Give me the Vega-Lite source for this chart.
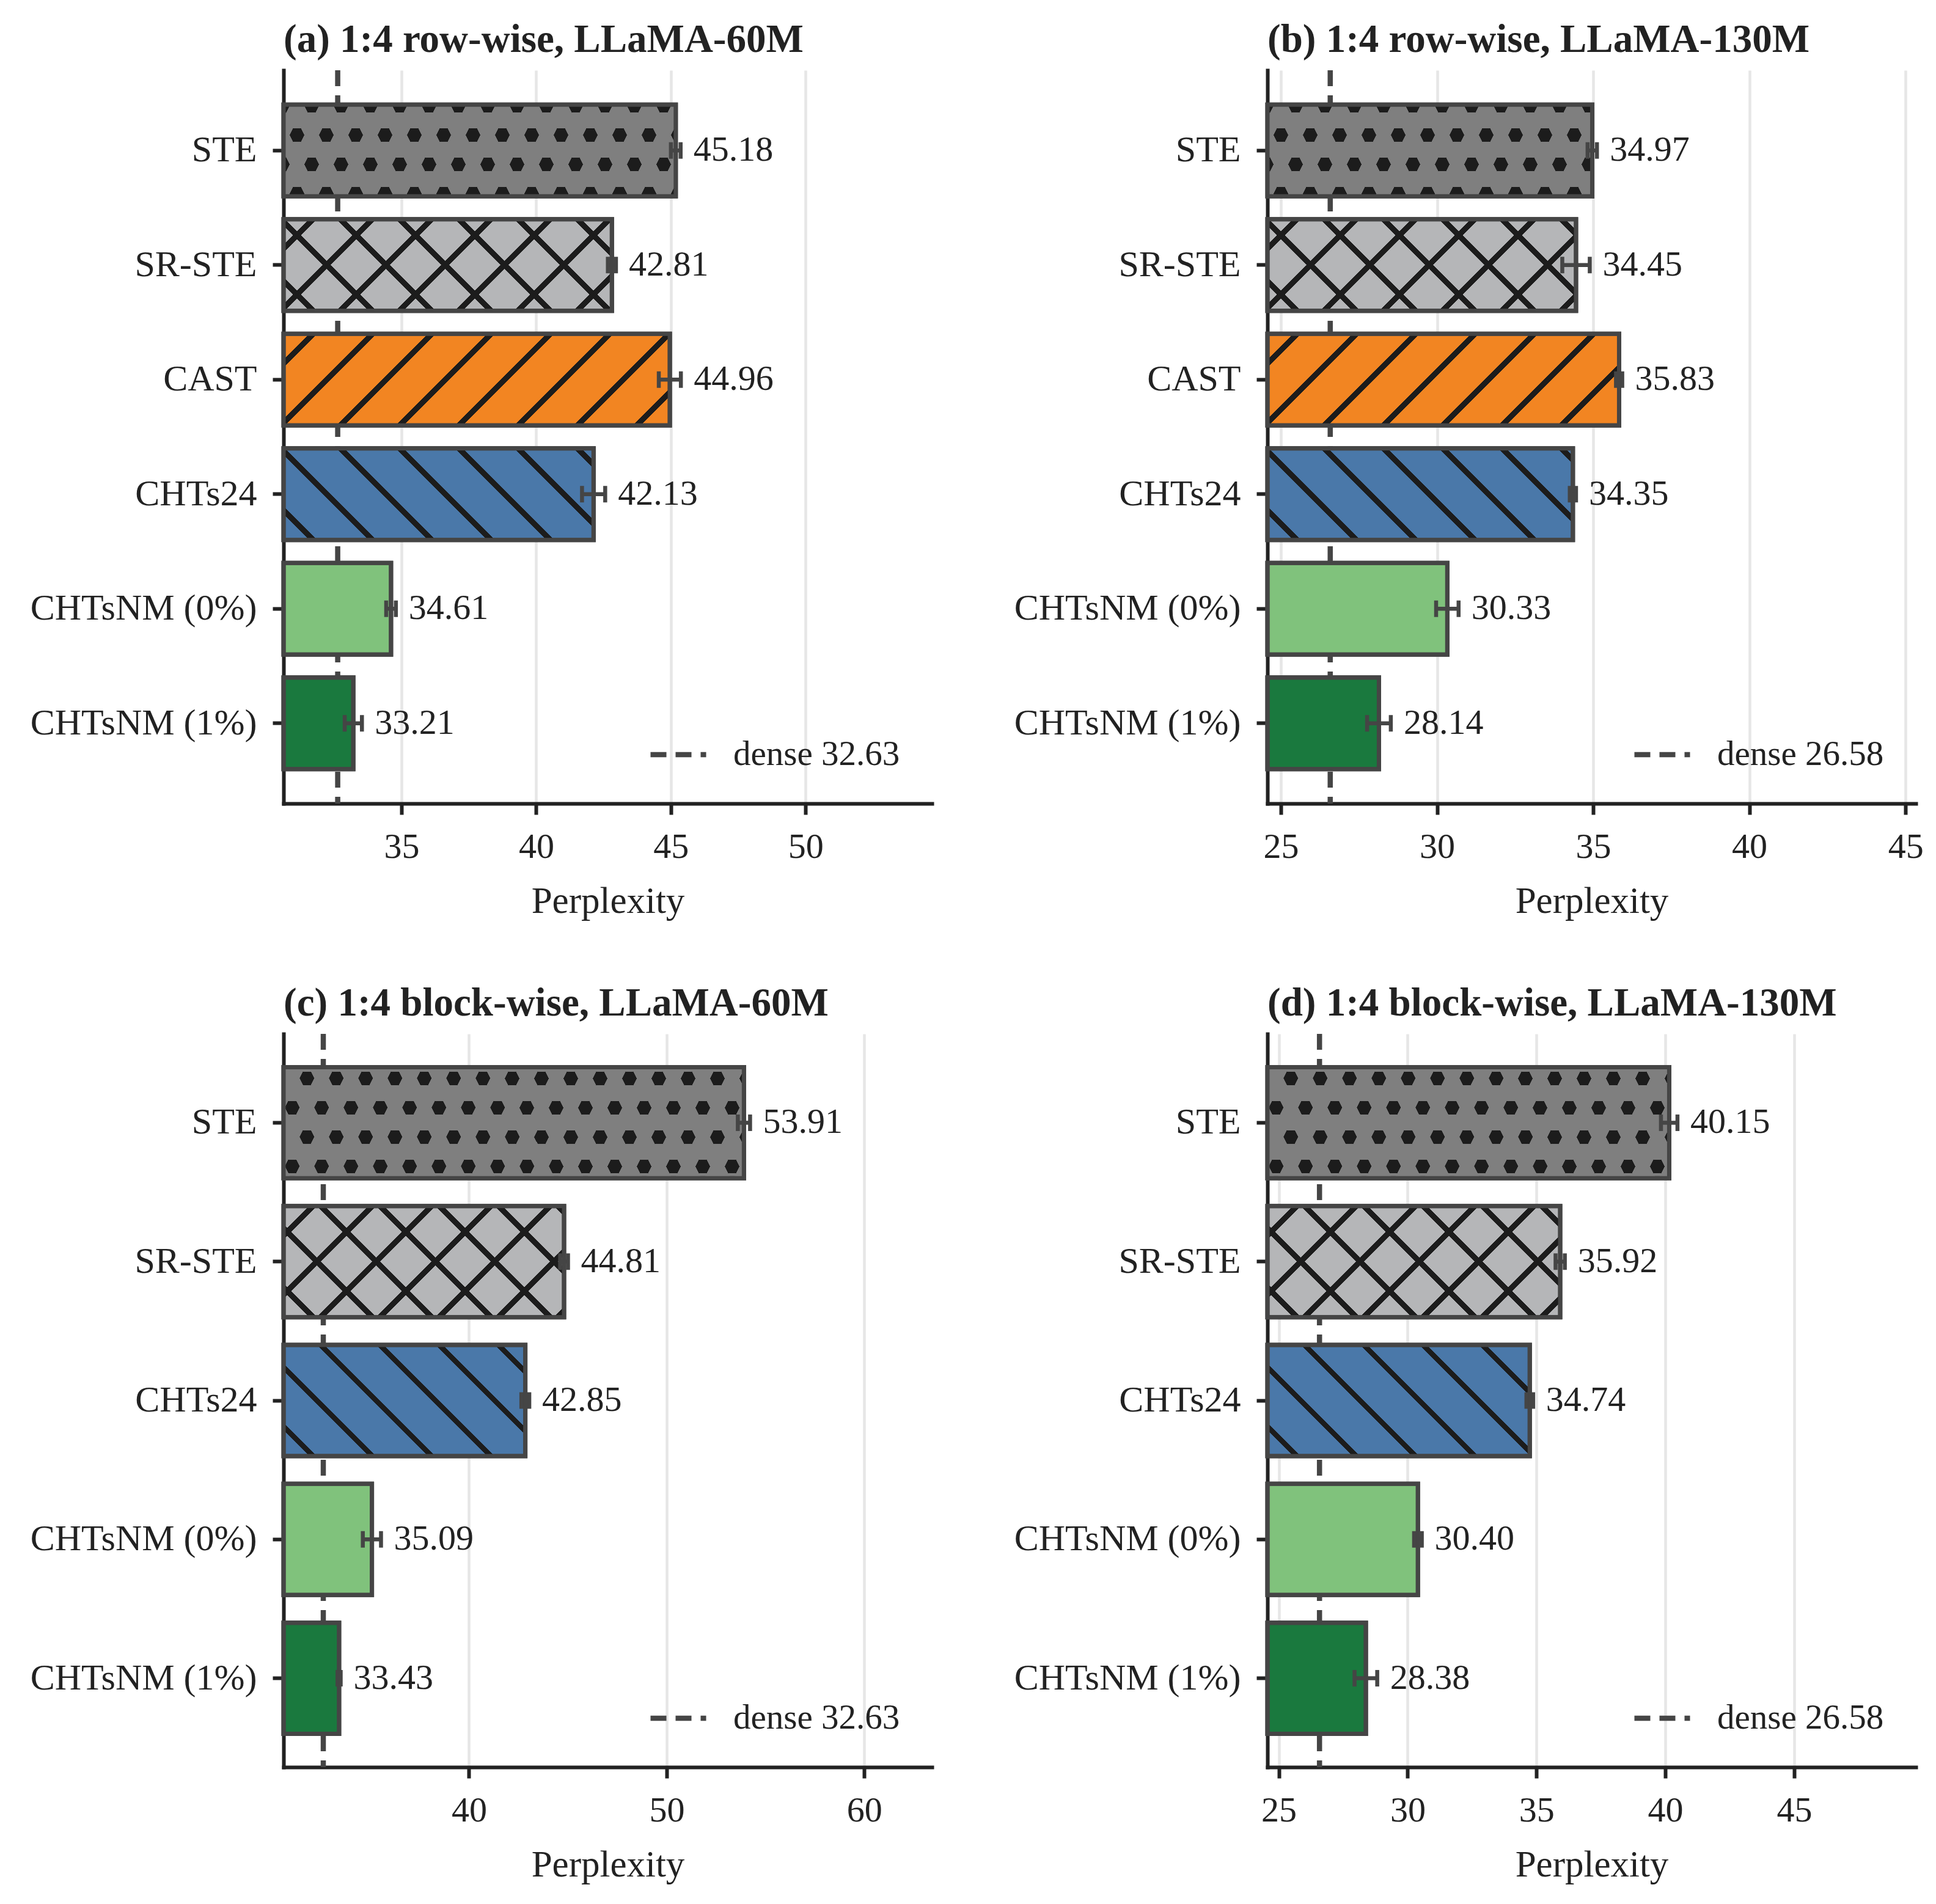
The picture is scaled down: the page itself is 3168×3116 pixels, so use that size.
{
"$schema": "https://vega.github.io/schema/vega-lite/v6.json",
"background": "white",
"padding": {"left": 49, "top": 32, "right": 5, "bottom": 5},
"params": [
{"name": "hs", "value": [
{"offset":0,"color":"transparent"},
{"offset":0.0362,"color":"transparent"},{"offset":0.0362,"color":"#1c1c1c"},{"offset":0.04713,"color":"#1c1c1c"},{"offset":0.04713,"color":"transparent"},
{"offset":0.11953,"color":"transparent"},{"offset":0.11953,"color":"#1c1c1c"},{"offset":0.13047,"color":"#1c1c1c"},{"offset":0.13047,"color":"transparent"},
{"offset":0.20287,"color":"transparent"},{"offset":0.20287,"color":"#1c1c1c"},{"offset":0.2138,"color":"#1c1c1c"},{"offset":0.2138,"color":"transparent"},
{"offset":0.2862,"color":"transparent"},{"offset":0.2862,"color":"#1c1c1c"},{"offset":0.29713,"color":"#1c1c1c"},{"offset":0.29713,"color":"transparent"},
{"offset":0.36953,"color":"transparent"},{"offset":0.36953,"color":"#1c1c1c"},{"offset":0.38047,"color":"#1c1c1c"},{"offset":0.38047,"color":"transparent"},
{"offset":0.45287,"color":"transparent"},{"offset":0.45287,"color":"#1c1c1c"},{"offset":0.4638,"color":"#1c1c1c"},{"offset":0.4638,"color":"transparent"},
{"offset":0.5362,"color":"transparent"},{"offset":0.5362,"color":"#1c1c1c"},{"offset":0.54713,"color":"#1c1c1c"},{"offset":0.54713,"color":"transparent"},
{"offset":0.61953,"color":"transparent"},{"offset":0.61953,"color":"#1c1c1c"},{"offset":0.63047,"color":"#1c1c1c"},{"offset":0.63047,"color":"transparent"},
{"offset":0.70287,"color":"transparent"},{"offset":0.70287,"color":"#1c1c1c"},{"offset":0.7138,"color":"#1c1c1c"},{"offset":0.7138,"color":"transparent"},
{"offset":0.7862,"color":"transparent"},{"offset":0.7862,"color":"#1c1c1c"},{"offset":0.79713,"color":"#1c1c1c"},{"offset":0.79713,"color":"transparent"},
{"offset":0.86953,"color":"transparent"},{"offset":0.86953,"color":"#1c1c1c"},{"offset":0.88047,"color":"#1c1c1c"},{"offset":0.88047,"color":"transparent"},
{"offset":0.95287,"color":"transparent"},{"offset":0.95287,"color":"#1c1c1c"},{"offset":0.9638,"color":"#1c1c1c"},{"offset":0.9638,"color":"transparent"},
{"offset":1,"color":"transparent"}]},
{"name": "rs", "value": [
{"offset":0,"color":"transparent"},
{"offset":0.05417,"color":"transparent"},{"offset":0.05417,"color":"#1c1c1c"},{"offset":0.14583,"color":"#1c1c1c"},{"offset":0.14583,"color":"transparent"},
{"offset":0.25417,"color":"transparent"},{"offset":0.25417,"color":"#1c1c1c"},{"offset":0.34583,"color":"#1c1c1c"},{"offset":0.34583,"color":"transparent"},
{"offset":0.45417,"color":"transparent"},{"offset":0.45417,"color":"#1c1c1c"},{"offset":0.54583,"color":"#1c1c1c"},{"offset":0.54583,"color":"transparent"},
{"offset":0.65417,"color":"transparent"},{"offset":0.65417,"color":"#1c1c1c"},{"offset":0.74583,"color":"#1c1c1c"},{"offset":0.74583,"color":"transparent"},
{"offset":0.85417,"color":"transparent"},{"offset":0.85417,"color":"#1c1c1c"},{"offset":0.94583,"color":"#1c1c1c"},{"offset":0.94583,"color":"transparent"},
{"offset":1,"color":"transparent"}]},
{"name": "cs", "value": [
{"offset":0,"color":"#7f7f7f"},
{"offset":0.01389,"color":"#7f7f7f"},{"offset":0.01389,"color":"transparent"},{"offset":0.04167,"color":"transparent"},{"offset":0.04167,"color":"#7f7f7f"},
{"offset":0.06944,"color":"#7f7f7f"},{"offset":0.06944,"color":"transparent"},{"offset":0.09722,"color":"transparent"},{"offset":0.09722,"color":"#7f7f7f"},
{"offset":0.125,"color":"#7f7f7f"},{"offset":0.125,"color":"transparent"},{"offset":0.15278,"color":"transparent"},{"offset":0.15278,"color":"#7f7f7f"},
{"offset":0.18056,"color":"#7f7f7f"},{"offset":0.18056,"color":"transparent"},{"offset":0.20833,"color":"transparent"},{"offset":0.20833,"color":"#7f7f7f"},
{"offset":0.23611,"color":"#7f7f7f"},{"offset":0.23611,"color":"transparent"},{"offset":0.26389,"color":"transparent"},{"offset":0.26389,"color":"#7f7f7f"},
{"offset":0.29167,"color":"#7f7f7f"},{"offset":0.29167,"color":"transparent"},{"offset":0.31944,"color":"transparent"},{"offset":0.31944,"color":"#7f7f7f"},
{"offset":0.34722,"color":"#7f7f7f"},{"offset":0.34722,"color":"transparent"},{"offset":0.375,"color":"transparent"},{"offset":0.375,"color":"#7f7f7f"},
{"offset":0.40278,"color":"#7f7f7f"},{"offset":0.40278,"color":"transparent"},{"offset":0.43056,"color":"transparent"},{"offset":0.43056,"color":"#7f7f7f"},
{"offset":0.45833,"color":"#7f7f7f"},{"offset":0.45833,"color":"transparent"},{"offset":0.48611,"color":"transparent"},{"offset":0.48611,"color":"#7f7f7f"},
{"offset":0.51389,"color":"#7f7f7f"},{"offset":0.51389,"color":"transparent"},{"offset":0.54167,"color":"transparent"},{"offset":0.54167,"color":"#7f7f7f"},
{"offset":0.56944,"color":"#7f7f7f"},{"offset":0.56944,"color":"transparent"},{"offset":0.59722,"color":"transparent"},{"offset":0.59722,"color":"#7f7f7f"},
{"offset":0.625,"color":"#7f7f7f"},{"offset":0.625,"color":"transparent"},{"offset":0.65278,"color":"transparent"},{"offset":0.65278,"color":"#7f7f7f"},
{"offset":0.68056,"color":"#7f7f7f"},{"offset":0.68056,"color":"transparent"},{"offset":0.70833,"color":"transparent"},{"offset":0.70833,"color":"#7f7f7f"},
{"offset":0.73611,"color":"#7f7f7f"},{"offset":0.73611,"color":"transparent"},{"offset":0.76389,"color":"transparent"},{"offset":0.76389,"color":"#7f7f7f"},
{"offset":0.79167,"color":"#7f7f7f"},{"offset":0.79167,"color":"transparent"},{"offset":0.81944,"color":"transparent"},{"offset":0.81944,"color":"#7f7f7f"},
{"offset":0.84722,"color":"#7f7f7f"},{"offset":0.84722,"color":"transparent"},{"offset":0.875,"color":"transparent"},{"offset":0.875,"color":"#7f7f7f"},
{"offset":0.90278,"color":"#7f7f7f"},{"offset":0.90278,"color":"transparent"},{"offset":0.93056,"color":"transparent"},{"offset":0.93056,"color":"#7f7f7f"},
{"offset":0.95833,"color":"#7f7f7f"},{"offset":0.95833,"color":"transparent"},{"offset":0.98611,"color":"transparent"},{"offset":0.98611,"color":"#7f7f7f"},
{"offset":1,"color":"#7f7f7f"}]}
],
"datasets": {
"pa": [
{"method":"STE","value":45.18,"lo":45.00,"hi":45.36},
{"method":"SR-STE","value":42.81,"lo":42.66,"hi":42.96},
{"method":"CAST","value":44.96,"lo":44.55,"hi":45.37},
{"method":"CHTs24","value":42.13,"lo":41.70,"hi":42.56},
{"method":"CHTsNM (0%)","value":34.61,"lo":34.43,"hi":34.79},
{"method":"CHTsNM (1%)","value":33.21,"lo":32.89,"hi":33.53}],
"pb": [
{"method":"STE","value":34.97,"lo":34.82,"hi":35.12},
{"method":"SR-STE","value":34.45,"lo":34.01,"hi":34.89},
{"method":"CAST","value":35.83,"lo":35.73,"hi":35.93},
{"method":"CHTs24","value":34.35,"lo":34.25,"hi":34.45},
{"method":"CHTsNM (0%)","value":30.33,"lo":29.97,"hi":30.69},
{"method":"CHTsNM (1%)","value":28.14,"lo":27.76,"hi":28.52}],
"pc": [
{"method":"STE","value":53.91,"lo":53.60,"hi":54.22},
{"method":"SR-STE","value":44.81,"lo":44.61,"hi":45.01},
{"method":"CHTs24","value":42.85,"lo":42.65,"hi":43.05},
{"method":"CHTsNM (0%)","value":35.09,"lo":34.63,"hi":35.55},
{"method":"CHTsNM (1%)","value":33.43,"lo":33.35,"hi":33.51}],
"pd": [
{"method":"STE","value":40.15,"lo":39.83,"hi":40.47},
{"method":"SR-STE","value":35.92,"lo":35.74,"hi":36.10},
{"method":"CHTs24","value":34.74,"lo":34.61,"hi":34.87},
{"method":"CHTsNM (0%)","value":30.40,"lo":30.25,"hi":30.55},
{"method":"CHTsNM (1%)","value":28.38,"lo":27.94,"hi":28.82}],
"qa": [{"label":"dense 32.63","dense":32.63}],
"qb": [{"label":"dense 26.58","dense":26.58}],
"qc": [{"label":"dense 32.63","dense":32.63}],
"qd": [{"label":"dense 26.58","dense":26.58}]
},
"columns": 2,
"spacing": {"row": 104, "column": 134},
"resolve": {"scale": {"x": "independent", "y": "independent", "stroke": "independent"}, "legend": {"stroke": "independent"}},
"concat": [
{
"title": "(a) 1:4 row-wise, LLaMA-60M",
"width": 1061, "height": 1200,
"layer": [
{"data": {"name": "qa"}, "mark": {"type": "rule", "strokeWidth": 8.5, "strokeDash": [26, 15]},
 "encoding": {"x": {"field": "dense", "type": "quantitative", "scale": {"domain": [30.62, 54.69], "nice": false, "zero": false}, "axis": {"values": [35, 40, 45, 50], "title": "Perplexity", "format": "d"}},
 "stroke": {"field": "label", "type": "nominal", "scale": {"range": ["#454545"]}, "legend": {"title": null}}}},
{"data": {"name": "pa"}, "mark": {"type": "bar", "stroke": "#454545", "strokeWidth": 7},
 "encoding": {"y": {"field": "method", "type": "nominal", "scale": {"domain": ["STE","SR-STE","CAST","CHTs24","CHTsNM (0%)","CHTsNM (1%)"], "paddingInner": 0.2, "paddingOuter": 0.3}, "axis": {"title": null}},
 "x": {"field": "value", "type": "quantitative"}, "x2": {"datum": 30.62},
 "fill": {"field": "method", "type": "nominal", "scale": {"domain": ["STE","SR-STE","CAST","CHTs24","CHTsNM (0%)","CHTsNM (1%)"], "range": ["#7f7f7f","#b5b6b8","#f28522","#4a78a9","#80c27c","#1a793e"]}, "legend": null}}},
{"data": {"name": "pa"}, "transform": [{"filter": "datum.method==='SR-STE'||datum.method==='CAST'"}],
 "mark": {"type": "bar", "fill": {"expr": "{gradient:'linear',x1:0,y1:0,x2:1164*(datum.value-30.62)*44.08/(pow((datum.value-30.62)*44.08,2)+22500),y2:174600/(pow((datum.value-30.62)*44.08,2)+22500),stops:hs}"}},
 "encoding": {"y": {"field": "method", "type": "nominal"}, "x": {"field": "value", "type": "quantitative"}, "x2": {"datum": 30.62}}},
{"data": {"name": "pa"}, "transform": [{"filter": "datum.method==='SR-STE'||datum.method==='CHTs24'"}],
 "mark": {"type": "bar", "fill": {"expr": "{gradient:'linear',x1:0,y1:1,x2:1164*(datum.value-30.62)*44.08/(pow((datum.value-30.62)*44.08,2)+22500),y2:1-174600/(pow((datum.value-30.62)*44.08,2)+22500),stops:hs}"}},
 "encoding": {"y": {"field": "method", "type": "nominal"}, "x": {"field": "value", "type": "quantitative"}, "x2": {"datum": 30.62}}},
{"data": {"name": "pa"}, "transform": [{"filter": "datum.method==='STE'"}],
 "mark": {"type": "bar", "fill": {"expr": "{gradient:'linear',x1:0,y1:-0.14667,x2:0,y2:1.45333,stops:rs}"}},
 "encoding": {"y": {"field": "method", "type": "nominal"}, "x": {"field": "value", "type": "quantitative"}, "x2": {"datum": 30.62}}},
{"data": {"name": "pa"}, "transform": [{"filter": "datum.method==='STE'"}],
 "mark": {"type": "bar", "fill": {"expr": "{gradient:'linear',x1:0,y1:1,x2:691.1*(datum.value-30.62)*44.08/(0.8*pow((datum.value-30.62)*44.08,2)+4500),y2:1-51840/(0.8*pow((datum.value-30.62)*44.08,2)+4500),stops:cs}"}},
 "encoding": {"y": {"field": "method", "type": "nominal"}, "x": {"field": "value", "type": "quantitative"}, "x2": {"datum": 30.62}}},
{"data": {"name": "pa"}, "transform": [{"filter": "datum.method==='STE'"}],
 "mark": {"type": "bar", "fill": {"expr": "{gradient:'linear',x1:-20.0*(datum.value-30.62)*44.08/(0.8*pow((datum.value-30.62)*44.08,2)+4500),y1:-1500.3/(0.8*pow((datum.value-30.62)*44.08,2)+4500),x2:671.1*(datum.value-30.62)*44.08/(0.8*pow((datum.value-30.62)*44.08,2)+4500),y2:50340/(0.8*pow((datum.value-30.62)*44.08,2)+4500),stops:cs}"}},
 "encoding": {"y": {"field": "method", "type": "nominal"}, "x": {"field": "value", "type": "quantitative"}, "x2": {"datum": 30.62}}},
{"data": {"name": "pa"}, "mark": {"type": "bar", "fill": "transparent", "stroke": "#454545", "strokeWidth": 7},
 "encoding": {"y": {"field": "method", "type": "nominal"}, "x": {"field": "value", "type": "quantitative"}, "x2": {"datum": 30.62}}},
{"data": {"name": "pa"}, "mark": {"type": "rule", "stroke": "#454545", "strokeWidth": 6.5},
 "encoding": {"y": {"field": "method", "type": "nominal"}, "x": {"field": "lo", "type": "quantitative"}, "x2": {"field": "hi"}}},
{"data": {"name": "pa"}, "mark": {"type": "tick", "color": "#454545", "size": 27, "thickness": 6.5, "opacity": 1},
 "encoding": {"y": {"field": "method", "type": "nominal"}, "x": {"field": "lo", "type": "quantitative"}}},
{"data": {"name": "pa"}, "mark": {"type": "tick", "color": "#454545", "size": 27, "thickness": 6.5, "opacity": 1},
 "encoding": {"y": {"field": "method", "type": "nominal"}, "x": {"field": "hi", "type": "quantitative"}}},
{"data": {"name": "pa"}, "mark": {"type": "text", "align": "left", "baseline": "middle", "dx": 21, "fontSize": 58, "font": "Liberation Serif", "color": "#222222"},
 "encoding": {"y": {"field": "method", "type": "nominal"}, "x": {"field": "hi", "type": "quantitative"}, "text": {"field": "value", "type": "quantitative", "format": ".2f"}}}
]
},
{
"title": "(b) 1:4 row-wise, LLaMA-130M",
"width": 1061, "height": 1200,
"layer": [
{"data": {"name": "qb"}, "mark": {"type": "rule", "strokeWidth": 8.5, "strokeDash": [26, 15]},
 "encoding": {"x": {"field": "dense", "type": "quantitative", "scale": {"domain": [24.57, 45.33], "nice": false, "zero": false}, "axis": {"values": [25, 30, 35, 40, 45], "title": "Perplexity", "format": "d"}},
 "stroke": {"field": "label", "type": "nominal", "scale": {"range": ["#454545"]}, "legend": {"title": null}}}},
{"data": {"name": "pb"}, "mark": {"type": "bar", "stroke": "#454545", "strokeWidth": 7},
 "encoding": {"y": {"field": "method", "type": "nominal", "scale": {"domain": ["STE","SR-STE","CAST","CHTs24","CHTsNM (0%)","CHTsNM (1%)"], "paddingInner": 0.2, "paddingOuter": 0.3}, "axis": {"title": null}},
 "x": {"field": "value", "type": "quantitative"}, "x2": {"datum": 24.57},
 "fill": {"field": "method", "type": "nominal", "scale": {"domain": ["STE","SR-STE","CAST","CHTs24","CHTsNM (0%)","CHTsNM (1%)"], "range": ["#7f7f7f","#b5b6b8","#f28522","#4a78a9","#80c27c","#1a793e"]}, "legend": null}}},
{"data": {"name": "pb"}, "transform": [{"filter": "datum.method==='SR-STE'||datum.method==='CAST'"}],
 "mark": {"type": "bar", "fill": {"expr": "{gradient:'linear',x1:0,y1:0,x2:1164*(datum.value-24.57)*51.108/(pow((datum.value-24.57)*51.108,2)+22500),y2:174600/(pow((datum.value-24.57)*51.108,2)+22500),stops:hs}"}},
 "encoding": {"y": {"field": "method", "type": "nominal"}, "x": {"field": "value", "type": "quantitative"}, "x2": {"datum": 24.57}}},
{"data": {"name": "pb"}, "transform": [{"filter": "datum.method==='SR-STE'||datum.method==='CHTs24'"}],
 "mark": {"type": "bar", "fill": {"expr": "{gradient:'linear',x1:0,y1:1,x2:1164*(datum.value-24.57)*51.108/(pow((datum.value-24.57)*51.108,2)+22500),y2:1-174600/(pow((datum.value-24.57)*51.108,2)+22500),stops:hs}"}},
 "encoding": {"y": {"field": "method", "type": "nominal"}, "x": {"field": "value", "type": "quantitative"}, "x2": {"datum": 24.57}}},
{"data": {"name": "pb"}, "transform": [{"filter": "datum.method==='STE'"}],
 "mark": {"type": "bar", "fill": {"expr": "{gradient:'linear',x1:0,y1:-0.14667,x2:0,y2:1.45333,stops:rs}"}},
 "encoding": {"y": {"field": "method", "type": "nominal"}, "x": {"field": "value", "type": "quantitative"}, "x2": {"datum": 24.57}}},
{"data": {"name": "pb"}, "transform": [{"filter": "datum.method==='STE'"}],
 "mark": {"type": "bar", "fill": {"expr": "{gradient:'linear',x1:0,y1:1,x2:691.1*(datum.value-24.57)*51.108/(0.8*pow((datum.value-24.57)*51.108,2)+4500),y2:1-51840/(0.8*pow((datum.value-24.57)*51.108,2)+4500),stops:cs}"}},
 "encoding": {"y": {"field": "method", "type": "nominal"}, "x": {"field": "value", "type": "quantitative"}, "x2": {"datum": 24.57}}},
{"data": {"name": "pb"}, "transform": [{"filter": "datum.method==='STE'"}],
 "mark": {"type": "bar", "fill": {"expr": "{gradient:'linear',x1:-20.0*(datum.value-24.57)*51.108/(0.8*pow((datum.value-24.57)*51.108,2)+4500),y1:-1500.3/(0.8*pow((datum.value-24.57)*51.108,2)+4500),x2:671.1*(datum.value-24.57)*51.108/(0.8*pow((datum.value-24.57)*51.108,2)+4500),y2:50340/(0.8*pow((datum.value-24.57)*51.108,2)+4500),stops:cs}"}},
 "encoding": {"y": {"field": "method", "type": "nominal"}, "x": {"field": "value", "type": "quantitative"}, "x2": {"datum": 24.57}}},
{"data": {"name": "pb"}, "mark": {"type": "bar", "fill": "transparent", "stroke": "#454545", "strokeWidth": 7},
 "encoding": {"y": {"field": "method", "type": "nominal"}, "x": {"field": "value", "type": "quantitative"}, "x2": {"datum": 24.57}}},
{"data": {"name": "pb"}, "mark": {"type": "rule", "stroke": "#454545", "strokeWidth": 6.5},
 "encoding": {"y": {"field": "method", "type": "nominal"}, "x": {"field": "lo", "type": "quantitative"}, "x2": {"field": "hi"}}},
{"data": {"name": "pb"}, "mark": {"type": "tick", "color": "#454545", "size": 27, "thickness": 6.5, "opacity": 1},
 "encoding": {"y": {"field": "method", "type": "nominal"}, "x": {"field": "lo", "type": "quantitative"}}},
{"data": {"name": "pb"}, "mark": {"type": "tick", "color": "#454545", "size": 27, "thickness": 6.5, "opacity": 1},
 "encoding": {"y": {"field": "method", "type": "nominal"}, "x": {"field": "hi", "type": "quantitative"}}},
{"data": {"name": "pb"}, "mark": {"type": "text", "align": "left", "baseline": "middle", "dx": 21, "fontSize": 58, "font": "Liberation Serif", "color": "#222222"},
 "encoding": {"y": {"field": "method", "type": "nominal"}, "x": {"field": "hi", "type": "quantitative"}, "text": {"field": "value", "type": "quantitative", "format": ".2f"}}}
]
},
{
"title": "(c) 1:4 block-wise, LLaMA-60M",
"width": 1061, "height": 1200,
"layer": [
{"data": {"name": "qc"}, "mark": {"type": "rule", "strokeWidth": 8.5, "strokeDash": [26, 15]},
 "encoding": {"x": {"field": "dense", "type": "quantitative", "scale": {"domain": [30.62, 63.42], "nice": false, "zero": false}, "axis": {"values": [40, 50, 60], "title": "Perplexity", "format": "d"}},
 "stroke": {"field": "label", "type": "nominal", "scale": {"range": ["#454545"]}, "legend": {"title": null}}}},
{"data": {"name": "pc"}, "mark": {"type": "bar", "stroke": "#454545", "strokeWidth": 7},
 "encoding": {"y": {"field": "method", "type": "nominal", "scale": {"domain": ["STE","SR-STE","CHTs24","CHTsNM (0%)","CHTsNM (1%)"], "paddingInner": 0.2, "paddingOuter": 0.24}, "axis": {"title": null}},
 "x": {"field": "value", "type": "quantitative"}, "x2": {"datum": 30.62},
 "fill": {"field": "method", "type": "nominal", "scale": {"domain": ["STE","SR-STE","CAST","CHTs24","CHTsNM (0%)","CHTsNM (1%)"], "range": ["#7f7f7f","#b5b6b8","#f28522","#4a78a9","#80c27c","#1a793e"]}, "legend": null}}},
{"data": {"name": "pc"}, "transform": [{"filter": "datum.method==='SR-STE'"}],
 "mark": {"type": "bar", "fill": {"expr": "{gradient:'linear',x1:0,y1:0,x2:1164*(datum.value-30.62)*32.348/(pow((datum.value-30.62)*32.348,2)+33051),y2:211615/(pow((datum.value-30.62)*32.348,2)+33051),stops:hs}"}},
 "encoding": {"y": {"field": "method", "type": "nominal"}, "x": {"field": "value", "type": "quantitative"}, "x2": {"datum": 30.62}}},
{"data": {"name": "pc"}, "transform": [{"filter": "datum.method==='SR-STE'||datum.method==='CHTs24'"}],
 "mark": {"type": "bar", "fill": {"expr": "{gradient:'linear',x1:0,y1:1,x2:1164*(datum.value-30.62)*32.348/(pow((datum.value-30.62)*32.348,2)+33051),y2:1-211615/(pow((datum.value-30.62)*32.348,2)+33051),stops:hs}"}},
 "encoding": {"y": {"field": "method", "type": "nominal"}, "x": {"field": "value", "type": "quantitative"}, "x2": {"datum": 30.62}}},
{"data": {"name": "pc"}, "transform": [{"filter": "datum.method==='STE'"}],
 "mark": {"type": "bar", "fill": {"expr": "{gradient:'linear',x1:0,y1:-0.033,x2:0,y2:1.2871,stops:rs}"}},
 "encoding": {"y": {"field": "method", "type": "nominal"}, "x": {"field": "value", "type": "quantitative"}, "x2": {"datum": 30.62}}},
{"data": {"name": "pc"}, "transform": [{"filter": "datum.method==='STE'"}],
 "mark": {"type": "bar", "fill": {"expr": "{gradient:'linear',x1:0,y1:1,x2:691.1*(datum.value-30.62)*32.348/(0.8*pow((datum.value-30.62)*32.348,2)+6610),y2:1-62830/(0.8*pow((datum.value-30.62)*32.348,2)+6610),stops:cs}"}},
 "encoding": {"y": {"field": "method", "type": "nominal"}, "x": {"field": "value", "type": "quantitative"}, "x2": {"datum": 30.62}}},
{"data": {"name": "pc"}, "transform": [{"filter": "datum.method==='STE'"}],
 "mark": {"type": "bar", "fill": {"expr": "{gradient:'linear',x1:-19.92*(datum.value-30.62)*32.348/(0.8*pow((datum.value-30.62)*32.348,2)+6610),y1:-1810.8/(0.8*pow((datum.value-30.62)*32.348,2)+6610),x2:671.2*(datum.value-30.62)*32.348/(0.8*pow((datum.value-30.62)*32.348,2)+6610),y2:61019/(0.8*pow((datum.value-30.62)*32.348,2)+6610),stops:cs}"}},
 "encoding": {"y": {"field": "method", "type": "nominal"}, "x": {"field": "value", "type": "quantitative"}, "x2": {"datum": 30.62}}},
{"data": {"name": "pc"}, "mark": {"type": "bar", "fill": "transparent", "stroke": "#454545", "strokeWidth": 7},
 "encoding": {"y": {"field": "method", "type": "nominal"}, "x": {"field": "value", "type": "quantitative"}, "x2": {"datum": 30.62}}},
{"data": {"name": "pc"}, "mark": {"type": "rule", "stroke": "#454545", "strokeWidth": 6.5},
 "encoding": {"y": {"field": "method", "type": "nominal"}, "x": {"field": "lo", "type": "quantitative"}, "x2": {"field": "hi"}}},
{"data": {"name": "pc"}, "mark": {"type": "tick", "color": "#454545", "size": 27, "thickness": 6.5, "opacity": 1},
 "encoding": {"y": {"field": "method", "type": "nominal"}, "x": {"field": "lo", "type": "quantitative"}}},
{"data": {"name": "pc"}, "mark": {"type": "tick", "color": "#454545", "size": 27, "thickness": 6.5, "opacity": 1},
 "encoding": {"y": {"field": "method", "type": "nominal"}, "x": {"field": "hi", "type": "quantitative"}}},
{"data": {"name": "pc"}, "mark": {"type": "text", "align": "left", "baseline": "middle", "dx": 21, "fontSize": 58, "font": "Liberation Serif", "color": "#222222"},
 "encoding": {"y": {"field": "method", "type": "nominal"}, "x": {"field": "hi", "type": "quantitative"}, "text": {"field": "value", "type": "quantitative", "format": ".2f"}}}
]
},
{
"title": "(d) 1:4 block-wise, LLaMA-130M",
"width": 1061, "height": 1200,
"layer": [
{"data": {"name": "qd"}, "mark": {"type": "rule", "strokeWidth": 8.5, "strokeDash": [26, 15]},
 "encoding": {"x": {"field": "dense", "type": "quantitative", "scale": {"domain": [24.56, 49.72], "nice": false, "zero": false}, "axis": {"values": [25, 30, 35, 40, 45], "title": "Perplexity", "format": "d"}},
 "stroke": {"field": "label", "type": "nominal", "scale": {"range": ["#454545"]}, "legend": {"title": null}}}},
{"data": {"name": "pd"}, "mark": {"type": "bar", "stroke": "#454545", "strokeWidth": 7},
 "encoding": {"y": {"field": "method", "type": "nominal", "scale": {"domain": ["STE","SR-STE","CHTs24","CHTsNM (0%)","CHTsNM (1%)"], "paddingInner": 0.2, "paddingOuter": 0.24}, "axis": {"title": null}},
 "x": {"field": "value", "type": "quantitative"}, "x2": {"datum": 24.56},
 "fill": {"field": "method", "type": "nominal", "scale": {"domain": ["STE","SR-STE","CAST","CHTs24","CHTsNM (0%)","CHTsNM (1%)"], "range": ["#7f7f7f","#b5b6b8","#f28522","#4a78a9","#80c27c","#1a793e"]}, "legend": null}}},
{"data": {"name": "pd"}, "transform": [{"filter": "datum.method==='SR-STE'"}],
 "mark": {"type": "bar", "fill": {"expr": "{gradient:'linear',x1:0,y1:0,x2:1164*(datum.value-24.56)*42.17/(pow((datum.value-24.56)*42.17,2)+33051),y2:211615/(pow((datum.value-24.56)*42.17,2)+33051),stops:hs}"}},
 "encoding": {"y": {"field": "method", "type": "nominal"}, "x": {"field": "value", "type": "quantitative"}, "x2": {"datum": 24.56}}},
{"data": {"name": "pd"}, "transform": [{"filter": "datum.method==='SR-STE'||datum.method==='CHTs24'"}],
 "mark": {"type": "bar", "fill": {"expr": "{gradient:'linear',x1:0,y1:1,x2:1164*(datum.value-24.56)*42.17/(pow((datum.value-24.56)*42.17,2)+33051),y2:1-211615/(pow((datum.value-24.56)*42.17,2)+33051),stops:hs}"}},
 "encoding": {"y": {"field": "method", "type": "nominal"}, "x": {"field": "value", "type": "quantitative"}, "x2": {"datum": 24.56}}},
{"data": {"name": "pd"}, "transform": [{"filter": "datum.method==='STE'"}],
 "mark": {"type": "bar", "fill": {"expr": "{gradient:'linear',x1:0,y1:-0.033,x2:0,y2:1.2871,stops:rs}"}},
 "encoding": {"y": {"field": "method", "type": "nominal"}, "x": {"field": "value", "type": "quantitative"}, "x2": {"datum": 24.56}}},
{"data": {"name": "pd"}, "transform": [{"filter": "datum.method==='STE'"}],
 "mark": {"type": "bar", "fill": {"expr": "{gradient:'linear',x1:0,y1:1,x2:691.1*(datum.value-24.56)*42.17/(0.8*pow((datum.value-24.56)*42.17,2)+6610),y2:1-62830/(0.8*pow((datum.value-24.56)*42.17,2)+6610),stops:cs}"}},
 "encoding": {"y": {"field": "method", "type": "nominal"}, "x": {"field": "value", "type": "quantitative"}, "x2": {"datum": 24.56}}},
{"data": {"name": "pd"}, "transform": [{"filter": "datum.method==='STE'"}],
 "mark": {"type": "bar", "fill": {"expr": "{gradient:'linear',x1:-19.92*(datum.value-24.56)*42.17/(0.8*pow((datum.value-24.56)*42.17,2)+6610),y1:-1810.8/(0.8*pow((datum.value-24.56)*42.17,2)+6610),x2:671.2*(datum.value-24.56)*42.17/(0.8*pow((datum.value-24.56)*42.17,2)+6610),y2:61019/(0.8*pow((datum.value-24.56)*42.17,2)+6610),stops:cs}"}},
 "encoding": {"y": {"field": "method", "type": "nominal"}, "x": {"field": "value", "type": "quantitative"}, "x2": {"datum": 24.56}}},
{"data": {"name": "pd"}, "mark": {"type": "bar", "fill": "transparent", "stroke": "#454545", "strokeWidth": 7},
 "encoding": {"y": {"field": "method", "type": "nominal"}, "x": {"field": "value", "type": "quantitative"}, "x2": {"datum": 24.56}}},
{"data": {"name": "pd"}, "mark": {"type": "rule", "stroke": "#454545", "strokeWidth": 6.5},
 "encoding": {"y": {"field": "method", "type": "nominal"}, "x": {"field": "lo", "type": "quantitative"}, "x2": {"field": "hi"}}},
{"data": {"name": "pd"}, "mark": {"type": "tick", "color": "#454545", "size": 27, "thickness": 6.5, "opacity": 1},
 "encoding": {"y": {"field": "method", "type": "nominal"}, "x": {"field": "lo", "type": "quantitative"}}},
{"data": {"name": "pd"}, "mark": {"type": "tick", "color": "#454545", "size": 27, "thickness": 6.5, "opacity": 1},
 "encoding": {"y": {"field": "method", "type": "nominal"}, "x": {"field": "hi", "type": "quantitative"}}},
{"data": {"name": "pd"}, "mark": {"type": "text", "align": "left", "baseline": "middle", "dx": 21, "fontSize": 58, "font": "Liberation Serif", "color": "#222222"},
 "encoding": {"y": {"field": "method", "type": "nominal"}, "x": {"field": "hi", "type": "quantitative"}, "text": {"field": "value", "type": "quantitative", "format": ".2f"}}}
]
}
],
"config": {
"view": {"stroke": null},
"font": "Liberation Serif",
"title": {"font": "Liberation Serif", "fontSize": 65, "fontWeight": "bold", "anchor": "start", "frame": "group", "color": "#222222", "offset": 12},
"axis": {"labelFont": "Liberation Serif", "titleFont": "Liberation Serif", "labelColor": "#222222", "titleColor": "#222222", "domainColor": "#222222", "tickColor": "#222222", "domainWidth": 6, "tickWidth": 6, "tickSize": 18, "titleFontWeight": "normal", "labelFontSize": 58, "titleFontSize": 61, "gridColor": "#e6e6e6", "gridWidth": 4.5, "domainCap": "square", "labelLimit": 0, "labelOverlap": false},
"axisX": {"grid": true, "labelPadding": 24, "titlePadding": 30, "labelFlush": false},
"axisY": {"grid": false, "labelPadding": 26, "labelFontSize": 60},
"legend": {"orient": "bottom-right", "offset": 52, "symbolType": "stroke", "symbolSize": 8281, "symbolStrokeWidth": 8.5, "symbolDash": [26, 15], "labelFont": "Liberation Serif", "labelFontSize": 57, "labelColor": "#222222", "labelOffset": 40, "labelLimit": 0}
}
}
